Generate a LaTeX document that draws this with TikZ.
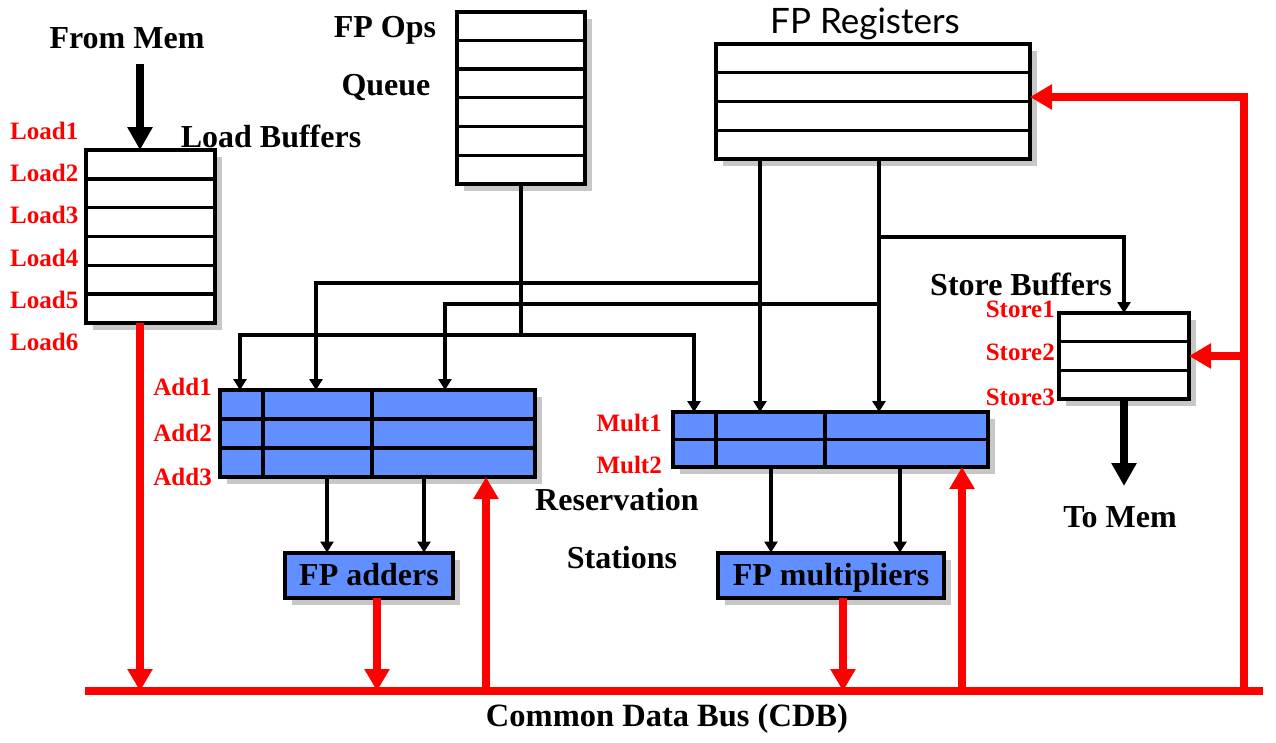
\documentclass[tikz,border=0pt]{standalone}
\usepackage{fontspec}
\setmainfont{Liberation Serif}
\newfontfamily\regfont{Lato}
\usetikzlibrary{arrows.meta,shadows,calc}
\definecolor{rsblue}{RGB}{97,143,255}
\tikzset{
  box/.style={draw, line width=4pt, inner sep=0pt, outer sep=0pt, fill=white,
    drop shadow={shadow xshift=7pt, shadow yshift=-7pt, opacity=.4, fill=black!55}},
  rsbox/.style={box, fill=rsblue},
  rowline/.style={line width=3.4pt},
  conn/.style={draw, line width=3.3pt},
  arr/.style={conn, -{Triangle[length=11pt,width=13pt]}},
  bigarr/.style={line width=8pt, -{Triangle[length=23pt,width=24pt]}},
  redbus/.style={draw=red, line width=8pt},
  redarr/.style={redbus, -{Triangle[length=22pt,width=24pt]}},
  lbl/.style={font=\fontsize{32}{34}\selectfont\bfseries, inner sep=0pt},
  rlbl/.style={text=red, font=\fontsize{25}{27}\selectfont\bfseries, inner sep=0pt},
}
\begin{document}
\begin{tikzpicture}[x=1pt,y=-1pt]
\useasboundingbox[fill=white] (0,0) rectangle (1276,742);

% ---------- boxes ----------
\node[box, minimum width=129pt, minimum height=173pt] (lb) at (150,236.5) {};
\node[box, minimum width=128pt, minimum height=172.5pt] (q) at (521,97.75) {};
\node[box, minimum width=314pt, minimum height=115pt] (reg) at (873,101.5) {};
\node[box, minimum width=130pt, minimum height=86pt] (st) at (1124,356) {};
\node[rsbox, minimum width=315pt, minimum height=87pt] (rsA) at (377.5,433.5) {};
\node[rsbox, minimum width=315pt, minimum height=55pt] (rsM) at (830.5,439.5) {};
\node[rsbox, minimum width=168pt, minimum height=45pt, lbl, text depth=2pt] (fa) at (369,575) {FP adders};
\node[rsbox, minimum width=226pt, minimum height=45pt, lbl, text depth=2pt] (fm) at (831,575) {FP multipliers};

% rows
\foreach \i in {1,...,5} {
  \draw[rowline] ($(lb.north west)!\i/6!(lb.south west)$) -- ($(lb.north east)!\i/6!(lb.south east)$);
  \draw[rowline] ($(q.north west)!\i/6!(q.south west)$) -- ($(q.north east)!\i/6!(q.south east)$);
}
\foreach \i in {1,2,3} \draw[rowline] ($(reg.north west)!\i/4!(reg.south west)$) -- ($(reg.north east)!\i/4!(reg.south east)$);
\foreach \i in {1,2} {
  \draw[rowline] ($(st.north west)!\i/3!(st.south west)$) -- ($(st.north east)!\i/3!(st.south east)$);
  \draw[rowline] ($(rsA.north west)!\i/3!(rsA.south west)$) -- ($(rsA.north east)!\i/3!(rsA.south east)$);
}
\draw[rowline] ($(rsM.north west)!.5!(rsM.south west)$) -- ($(rsM.north east)!.5!(rsM.south east)$);
\coordinate (vA1) at (263,0); \coordinate (vA2) at (372,0);
\coordinate (vM1) at (716,0); \coordinate (vM2) at (825,0);
\draw[rowline] (rsA.north -| vA1) -- (rsA.south -| vA1);
\draw[rowline] (rsA.north -| vA2) -- (rsA.south -| vA2);
\draw[rowline] (rsM.north -| vM1) -- (rsM.south -| vM1);
\draw[rowline] (rsM.north -| vM2) -- (rsM.south -| vM2);

% ---------- labels ----------
\node[lbl] (tFrom) at (127,38) {From Mem};
\node[lbl] (tLB) at (271,136) {Load Buffers};
\node[lbl] (tOps) at (385,30) {FP Ops};
\node[lbl] (tQ) at (386,87) {Queue};
\node[inner sep=0pt, font=\regfont\fontsize{35}{37}\selectfont] (tReg) at (865,24) {FP Registers};
\node[lbl] (tSB) at (1021,284) {Store Buffers};
\node[lbl] (tRes) at (617,500) {Reservation};
\node[lbl] (tSta) at (622,558) {Stations};
\node[lbl] (tTo) at (1120,517) {To Mem};
\node[lbl, font=\fontsize{32.5}{35}\selectfont\bfseries] (tCDB) at (667,719) {Common Data Bus (CDB)};

\foreach \n/\y in {1/131,2/173,3/215,4/258,5/300,6/342}
  \node[rlbl, anchor=west] (ld\n) at (10,\y) {Load\n};
\foreach \n/\y in {1/309,2/352,3/397}
  \node[rlbl, anchor=east] (sl\n) at (1055,\y) {Store\n};
\foreach \n/\y in {1/387,2/433,3/477}
  \node[rlbl, anchor=east] (al\n) at (212,\y) {Add\n};
\foreach \n/\y in {1/423,2/465}
  \node[rlbl, anchor=east] (ml\n) at (662,\y) {Mult\n};

% ---------- black connectors ----------
\coordinate (qj) at (521,335);
\coordinate (xA1) at (240,0); \coordinate (xA2) at (316,0); \coordinate (xA3) at (445,0);
\coordinate (xM1) at (694,0); \coordinate (xM2) at (760,0); \coordinate (xM3) at (879,0);
\coordinate (b1) at (760,283); \coordinate (b2) at (879,304); \coordinate (b3) at (879,237);
\draw[conn] (q.south) -- (qj);
\draw[arr] (qj) -| (rsA.north -| xA1);
\draw[arr] (qj) -| (rsM.north -| xM1);
\draw[arr] (reg.south -| xM2) -- (rsM.north -| xM2);
\draw[arr] (reg.south -| xM3) -- (rsM.north -| xM3);
\draw[arr] (b1) -| (rsA.north -| xA2);
\draw[arr] (b2) -| (rsA.north -| xA3);
\draw[arr] (b3) -| (st.north);

\coordinate (xa1) at (327,0); \coordinate (xa2) at (424,0);
\coordinate (xm1) at (771,0); \coordinate (xm2) at (900,0);
\draw[arr] (rsA.south -| xa1) -- (fa.north -| xa1);
\draw[arr] (rsA.south -| xa2) -- (fa.north -| xa2);
\draw[arr] (rsM.south -| xm1) -- (fm.north -| xm1);
\draw[arr] (rsM.south -| xm2) -- (fm.north -| xm2);

% memory arrows
\coordinate (memIn) at (140,64);
\coordinate (memOut) at (1124,486);
\draw[bigarr] (memIn) -- (lb.north -| memIn);
\draw[bigarr] (st.south) -- (memOut);

% ---------- red CDB ----------
\coordinate (cdbL) at (85,691); \coordinate (cdbR) at (1263,691);
\coordinate (xr1) at (377,0); \coordinate (xr2) at (486,0);
\coordinate (xr3) at (843,0); \coordinate (xr4) at (962,0);
\coordinate (xR) at (1244,0); \coordinate (yReg) at (0,97); \coordinate (ySt) at (0,356);
\draw[redbus] (cdbL) -- (cdbR);
\draw[redarr] (lb.south -| memIn) -- (memIn |- cdbL);
\draw[redarr] (fa.south -| xr1) -- (xr1 |- cdbL);
\draw[redarr] (xr2 |- cdbL) -- (rsA.south -| xr2);
\draw[redarr] (fm.south -| xr3) -- (xr3 |- cdbL);
\draw[redarr] (xr4 |- cdbL) -- (rsM.south -| xr4);
\draw[redarr] (xR |- cdbL) -- (xR |- yReg) -- (reg.east |- yReg);
\draw[redarr] (xR |- ySt) -- (st.east |- ySt);
\end{tikzpicture}
\end{document}
